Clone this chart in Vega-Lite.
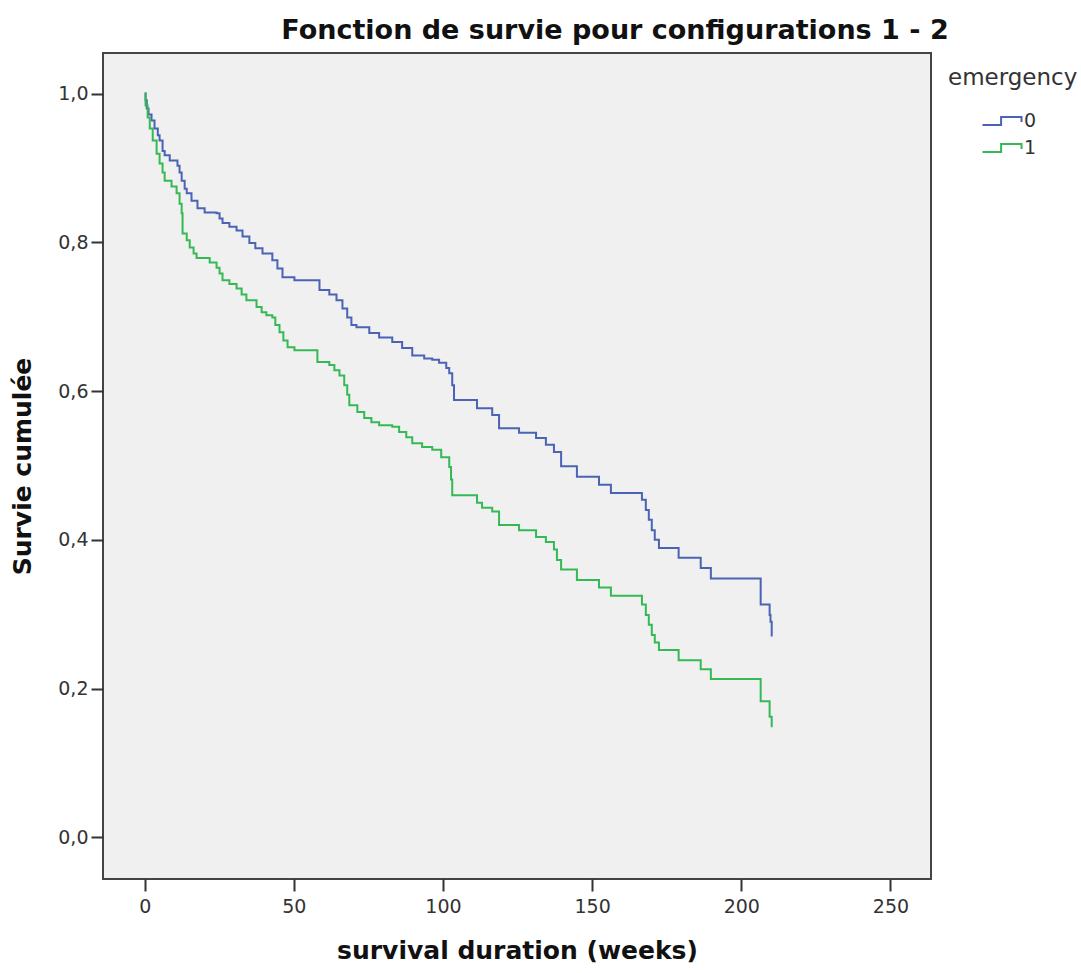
{
  "$schema": "https://vega.github.io/schema/vega-lite/v6.json",
  "width": 828,
  "height": 826,
  "autosize": {"type": "none"},
  "padding": {"left": 103, "top": 53, "right": 150, "bottom": 94},
  "background": "white",
  "title": {
    "text": "Fonction de survie pour configurations 1 - 2",
    "font": "DejaVu Sans",
    "fontSize": 27,
    "fontWeight": "bold",
    "color": "#111",
    "anchor": "middle",
    "frame": "group",
    "dx": 98,
    "baseline": "alphabetic",
    "offset": -13
  },
  "data": {
    "values": [
      {"g": "0", "t": 0, "s": 1.0},
      {"g": "0", "t": 0.3, "s": 0.991},
      {"g": "0", "t": 0.7, "s": 0.98},
      {"g": "0", "t": 1.3, "s": 0.972},
      {"g": "0", "t": 2.3, "s": 0.964},
      {"g": "0", "t": 3.3, "s": 0.953},
      {"g": "0", "t": 4.4, "s": 0.944},
      {"g": "0", "t": 5.0, "s": 0.937},
      {"g": "0", "t": 6.0, "s": 0.923},
      {"g": "0", "t": 6.7, "s": 0.917},
      {"g": "0", "t": 8.4, "s": 0.91},
      {"g": "0", "t": 11.0, "s": 0.903},
      {"g": "0", "t": 11.7, "s": 0.894},
      {"g": "0", "t": 12.4, "s": 0.883},
      {"g": "0", "t": 13.4, "s": 0.872},
      {"g": "0", "t": 14.1, "s": 0.866},
      {"g": "0", "t": 15.7, "s": 0.856},
      {"g": "0", "t": 17.7, "s": 0.846},
      {"g": "0", "t": 20.1, "s": 0.84},
      {"g": "0", "t": 24.1, "s": 0.839},
      {"g": "0", "t": 25.1, "s": 0.832},
      {"g": "0", "t": 26.1, "s": 0.826},
      {"g": "0", "t": 28.4, "s": 0.821},
      {"g": "0", "t": 30.8, "s": 0.816},
      {"g": "0", "t": 32.8, "s": 0.808},
      {"g": "0", "t": 35.1, "s": 0.799},
      {"g": "0", "t": 37.1, "s": 0.792},
      {"g": "0", "t": 39.5, "s": 0.785},
      {"g": "0", "t": 42.8, "s": 0.776},
      {"g": "0", "t": 44.5, "s": 0.765},
      {"g": "0", "t": 46.2, "s": 0.753},
      {"g": "0", "t": 50.2, "s": 0.749},
      {"g": "0", "t": 58.6, "s": 0.736},
      {"g": "0", "t": 61.9, "s": 0.73},
      {"g": "0", "t": 64.3, "s": 0.722},
      {"g": "0", "t": 66.3, "s": 0.711},
      {"g": "0", "t": 67.9, "s": 0.699},
      {"g": "0", "t": 69.3, "s": 0.689},
      {"g": "0", "t": 71.0, "s": 0.686},
      {"g": "0", "t": 75.3, "s": 0.678},
      {"g": "0", "t": 78.6, "s": 0.672},
      {"g": "0", "t": 83.0, "s": 0.666},
      {"g": "0", "t": 86.3, "s": 0.658},
      {"g": "0", "t": 89.7, "s": 0.648},
      {"g": "0", "t": 93.7, "s": 0.644},
      {"g": "0", "t": 96.4, "s": 0.642},
      {"g": "0", "t": 98.7, "s": 0.638},
      {"g": "0", "t": 101.1, "s": 0.631},
      {"g": "0", "t": 102.1, "s": 0.624},
      {"g": "0", "t": 103.1, "s": 0.608},
      {"g": "0", "t": 103.7, "s": 0.588},
      {"g": "0", "t": 111.4, "s": 0.577},
      {"g": "0", "t": 116.5, "s": 0.568},
      {"g": "0", "t": 118.8, "s": 0.55},
      {"g": "0", "t": 125.5, "s": 0.544},
      {"g": "0", "t": 131.2, "s": 0.537},
      {"g": "0", "t": 134.5, "s": 0.528},
      {"g": "0", "t": 137.2, "s": 0.518},
      {"g": "0", "t": 139.6, "s": 0.499},
      {"g": "0", "t": 144.9, "s": 0.485},
      {"g": "0", "t": 152.3, "s": 0.474},
      {"g": "0", "t": 156.3, "s": 0.463},
      {"g": "0", "t": 166.7, "s": 0.454},
      {"g": "0", "t": 168.0, "s": 0.44},
      {"g": "0", "t": 169.0, "s": 0.427},
      {"g": "0", "t": 170.0, "s": 0.413},
      {"g": "0", "t": 171.0, "s": 0.4},
      {"g": "0", "t": 172.4, "s": 0.389},
      {"g": "0", "t": 179.0, "s": 0.376},
      {"g": "0", "t": 186.4, "s": 0.362},
      {"g": "0", "t": 189.8, "s": 0.348},
      {"g": "0", "t": 206.5, "s": 0.313},
      {"g": "0", "t": 209.5, "s": 0.299},
      {"g": "0", "t": 209.8, "s": 0.29},
      {"g": "0", "t": 210.2, "s": 0.27},
      {"g": "1", "t": 0, "s": 1.0},
      {"g": "1", "t": 0.3, "s": 0.984},
      {"g": "1", "t": 1.0, "s": 0.968},
      {"g": "1", "t": 1.7, "s": 0.953},
      {"g": "1", "t": 2.7, "s": 0.937},
      {"g": "1", "t": 4.0, "s": 0.919},
      {"g": "1", "t": 5.0, "s": 0.906},
      {"g": "1", "t": 6.0, "s": 0.894},
      {"g": "1", "t": 6.7, "s": 0.883},
      {"g": "1", "t": 9.0, "s": 0.875},
      {"g": "1", "t": 10.7, "s": 0.866},
      {"g": "1", "t": 11.7, "s": 0.852},
      {"g": "1", "t": 12.4, "s": 0.839},
      {"g": "1", "t": 12.7, "s": 0.812},
      {"g": "1", "t": 14.1, "s": 0.803},
      {"g": "1", "t": 15.1, "s": 0.793},
      {"g": "1", "t": 16.4, "s": 0.785},
      {"g": "1", "t": 17.4, "s": 0.779},
      {"g": "1", "t": 21.8, "s": 0.773},
      {"g": "1", "t": 24.1, "s": 0.766},
      {"g": "1", "t": 25.1, "s": 0.758},
      {"g": "1", "t": 26.1, "s": 0.749},
      {"g": "1", "t": 28.4, "s": 0.744},
      {"g": "1", "t": 30.8, "s": 0.738},
      {"g": "1", "t": 32.5, "s": 0.73},
      {"g": "1", "t": 34.1, "s": 0.722},
      {"g": "1", "t": 37.5, "s": 0.713},
      {"g": "1", "t": 39.2, "s": 0.706},
      {"g": "1", "t": 40.8, "s": 0.702},
      {"g": "1", "t": 42.8, "s": 0.699},
      {"g": "1", "t": 43.8, "s": 0.689},
      {"g": "1", "t": 45.2, "s": 0.679},
      {"g": "1", "t": 46.5, "s": 0.668},
      {"g": "1", "t": 47.9, "s": 0.659},
      {"g": "1", "t": 50.2, "s": 0.655},
      {"g": "1", "t": 57.9, "s": 0.639},
      {"g": "1", "t": 61.9, "s": 0.635},
      {"g": "1", "t": 63.6, "s": 0.628},
      {"g": "1", "t": 65.3, "s": 0.621},
      {"g": "1", "t": 66.9, "s": 0.608},
      {"g": "1", "t": 67.9, "s": 0.595},
      {"g": "1", "t": 68.6, "s": 0.581},
      {"g": "1", "t": 71.3, "s": 0.572},
      {"g": "1", "t": 73.6, "s": 0.564},
      {"g": "1", "t": 76.0, "s": 0.558},
      {"g": "1", "t": 78.6, "s": 0.554},
      {"g": "1", "t": 83.0, "s": 0.552},
      {"g": "1", "t": 85.3, "s": 0.545},
      {"g": "1", "t": 87.7, "s": 0.538},
      {"g": "1", "t": 89.7, "s": 0.53},
      {"g": "1", "t": 93.0, "s": 0.525},
      {"g": "1", "t": 96.4, "s": 0.521},
      {"g": "1", "t": 99.4, "s": 0.511},
      {"g": "1", "t": 102.1, "s": 0.498},
      {"g": "1", "t": 102.7, "s": 0.481},
      {"g": "1", "t": 103.1, "s": 0.46},
      {"g": "1", "t": 111.4, "s": 0.45},
      {"g": "1", "t": 113.1, "s": 0.443},
      {"g": "1", "t": 116.5, "s": 0.438},
      {"g": "1", "t": 118.8, "s": 0.42},
      {"g": "1", "t": 125.5, "s": 0.413},
      {"g": "1", "t": 131.2, "s": 0.404},
      {"g": "1", "t": 134.5, "s": 0.397},
      {"g": "1", "t": 137.2, "s": 0.387},
      {"g": "1", "t": 138.2, "s": 0.373},
      {"g": "1", "t": 139.6, "s": 0.36},
      {"g": "1", "t": 144.9, "s": 0.346},
      {"g": "1", "t": 152.3, "s": 0.336},
      {"g": "1", "t": 156.3, "s": 0.325},
      {"g": "1", "t": 166.7, "s": 0.313},
      {"g": "1", "t": 168.0, "s": 0.299},
      {"g": "1", "t": 169.0, "s": 0.286},
      {"g": "1", "t": 170.0, "s": 0.272},
      {"g": "1", "t": 171.0, "s": 0.262},
      {"g": "1", "t": 172.4, "s": 0.252},
      {"g": "1", "t": 179.0, "s": 0.238},
      {"g": "1", "t": 186.4, "s": 0.226},
      {"g": "1", "t": 189.8, "s": 0.213},
      {"g": "1", "t": 206.5, "s": 0.183},
      {"g": "1", "t": 209.5, "s": 0.162},
      {"g": "1", "t": 210.2, "s": 0.148}
    ]
  },
  "mark": {"type": "line", "interpolate": "step-after", "strokeWidth": 2},
  "encoding": {
    "x": {
      "field": "t",
      "type": "quantitative",
      "scale": {"domain": [-13.97, 263.6], "nice": false, "zero": false},
      "axis": {
        "title": "survival duration (weeks)",
        "values": [0, 50, 100, 150, 200, 250],
        "labelPadding": 6,
        "titlePadding": 22
      }
    },
    "y": {
      "field": "s",
      "type": "quantitative",
      "scale": {"domain": [-0.056, 1.0546], "nice": false, "zero": false},
      "axis": {
        "title": "Survie cumulée",
        "values": [0, 0.2, 0.4, 0.6, 0.8, 1.0],
        "labelExpr": "replace(format(datum.value, '.1f'), '.', ',')",
        "titlePadding": 22
      }
    },
    "color": {
      "field": "g",
      "type": "nominal",
      "scale": {"domain": ["0", "1"], "range": ["#4b63b5", "#35b955"]},
      "legend": {
        "title": "emergency",
        "orient": "none",
        "legendX": 845,
        "legendY": 14,
        "titleFont": "DejaVu Sans",
        "titleFontSize": 23,
        "titleFontWeight": "normal",
        "titleColor": "#333",
        "titlePadding": 17,
        "labelFont": "DejaVu Sans",
        "labelFontSize": 19,
        "labelColor": "#333",
        "labelOffset": 8,
        "symbolType": "M-1.5,0.3H-0.07V-0.3H1.5V0.08",
        "symbolSize": 676,
        "symbolStrokeWidth": 2,
        "symbolOffset": 40,
        "rowPadding": 3
      }
    }
  },
  "config": {
    "view": {"fill": "#f0f0f0", "stroke": "#444", "strokeWidth": 2},
    "axis": {
      "domain": false,
      "grid": false,
      "ticks": true,
      "tickColor": "#333",
      "tickWidth": 2,
      "tickSize": 12,
      "labelFont": "DejaVu Sans",
      "labelFontSize": 19,
      "labelColor": "#333",
      "labelPadding": 3,
      "titleFont": "DejaVu Sans",
      "titleFontSize": 25,
      "titleFontWeight": "bold",
      "titleColor": "#111"
    }
  }
}
